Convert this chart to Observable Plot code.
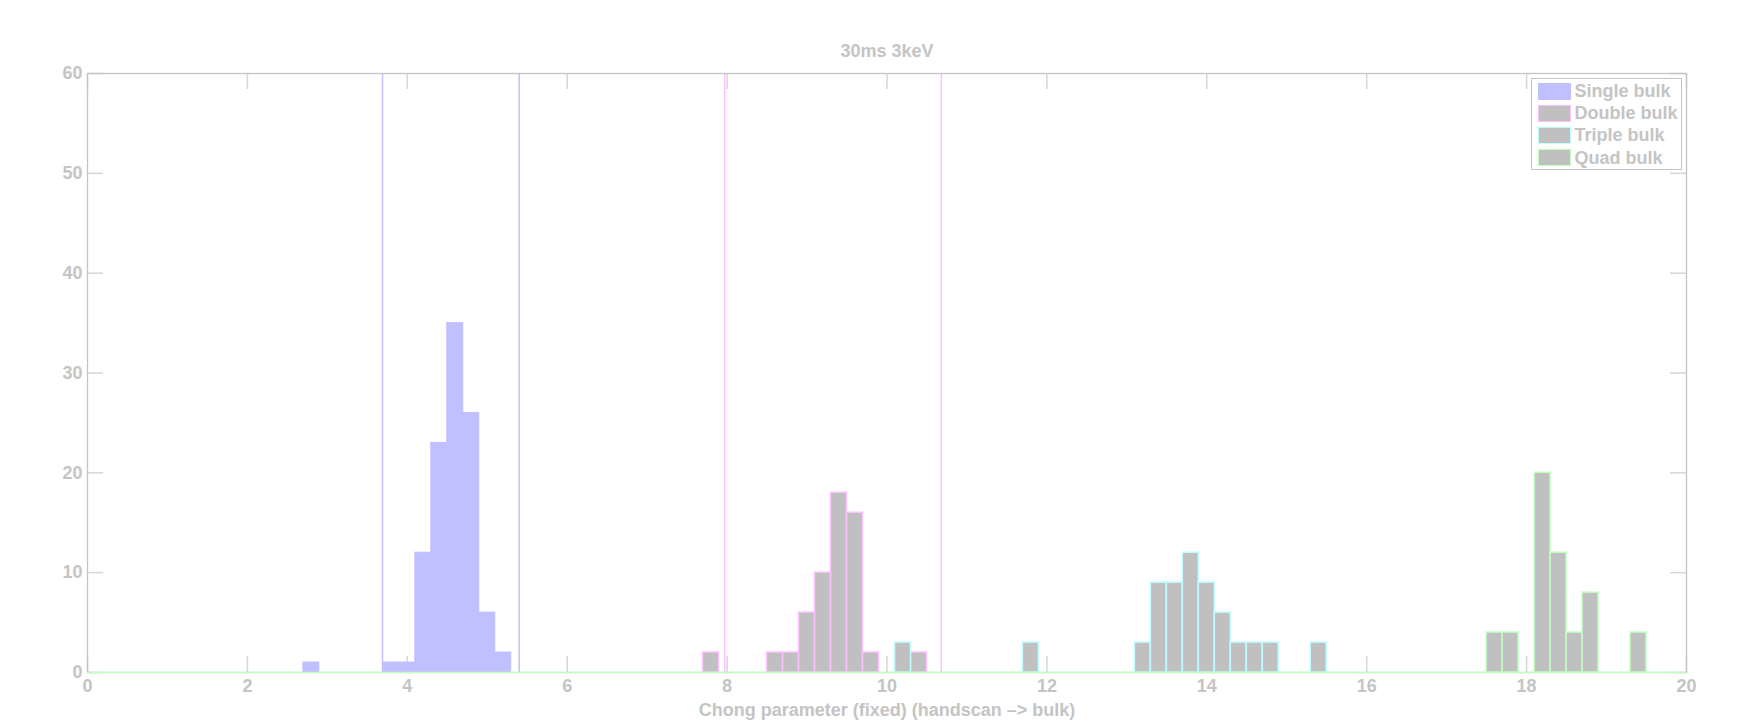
<!DOCTYPE html>
<html>
<head>
<meta charset="utf-8">
<script src="https://cdn.jsdelivr.net/npm/d3@7"></script>
<script src="https://cdn.jsdelivr.net/npm/@observablehq/plot@0.6"></script>
<style>
  body { margin: 0; background: #fff; }
  #wrap { position: relative; width: 1742px; height: 721px; font-family: "Liberation Sans", Arial, Helvetica, sans-serif; font-weight: bold; }
  #legend { position: absolute; left: 1531px; top: 78px; width: 151px; height: 92px; box-sizing: border-box;
            border: 1.5px solid #c4c4c4; background: #fff; padding: 1px 0 0 5.5px; }
  .row { display: flex; align-items: center; height: 22.2px; }
  .sw { width: 33px; height: 17px; box-sizing: border-box; margin-right: 4px; }
  .lab { font-size: 18px; color: #c4c4c4; line-height: 1; white-space: nowrap; }
</style>
</head>
<body>
<div id="wrap"><div id="chart"></div><div id="legend"></div></div>
<script>
// ---- data (histogram bin centres, width 0.2, and counts) ----
const title = "30ms 3keV";
const xLabel = "Chong parameter (fixed) (handscan \u2013> bulk)";
const binWidth = 0.2;
const xTicks = [0, 2, 4, 6, 8, 10, 12, 14, 16, 18, 20];
const yTicks = [0, 10, 20, 30, 40, 50, 60];

const singleCenters = [2.8, 3.8, 4.0, 4.2, 4.4, 4.6, 4.8, 5.0, 5.2];
const singleCounts  = [1, 1, 1, 12, 23, 35, 26, 6, 2];

const doubleCenters = [7.8, 8.6, 8.8, 9.0, 9.2, 9.4, 9.6, 9.8, 10.4];
const doubleCounts  = [2, 2, 2, 6, 10, 18, 16, 2, 2];

const tripleCenters = [10.2, 11.8, 13.2, 13.4, 13.6, 13.8, 14.0, 14.2, 14.4, 14.6, 14.8, 15.4];
const tripleCounts  = [3, 3, 3, 9, 9, 12, 9, 6, 3, 3, 3, 3];

const quadCenters = [17.6, 17.8, 18.2, 18.4, 18.6, 18.8, 19.4];
const quadCounts  = [4, 4, 20, 12, 4, 8, 4];

const singleCuts = [3.69, 5.40];
const doubleCuts = [7.97, 10.68];

const seriesNames = ["Single bulk", "Double bulk", "Triple bulk", "Quad bulk"];
const seriesFill   = ["#c0c0ff", "#c0c0c0", "#c0c0c0", "#c0c0c0"];
const seriesStroke = ["#c0c0ff", "#ffc0ff", "#c0ffff", "#c0ffc0"];

// ---- layout ----
const W = 1742, H = 721;
const mL = 87, mR = 56, mT = 73, mB = 49;
const xDomain = [0, 20], yDomain = [0, 60];
const tickPx = 16;
const tickLenY = tickPx * (yDomain[1] - yDomain[0]) / (H - mT - mB);
const tickLenX = tickPx * (xDomain[1] - xDomain[0]) / (W - mL - mR);
const textColor = "#c4c4c4";
const font = "18px";

function bins(centers, counts) {
  return centers.map((c, i) => ({x1: c - binWidth / 2, x2: c + binWidth / 2, count: counts[i]}));
}
const allBins = [
  bins(singleCenters, singleCounts),
  bins(doubleCenters, doubleCounts),
  bins(tripleCenters, tripleCounts),
  bins(quadCenters, quadCounts)
];

const barMarks = allBins.map((b, i) => Plot.rectY(b, {
  x1: "x1", x2: "x2", y1: 0, y2: "count",
  fill: seriesFill[i], stroke: seriesStroke[i], strokeWidth: i === 0 ? 1 : 1.5
}));

const chart = Plot.plot({
  width: W, height: H,
  marginLeft: mL, marginRight: mR, marginTop: mT, marginBottom: mB,
  style: {fontFamily: '"Liberation Sans", Arial, Helvetica, sans-serif', fontWeight: "bold", fontSize: font, color: textColor, background: "#fff"},
  x: {domain: xDomain, axis: null},
  y: {domain: yDomain, axis: null},
  marks: [
    // ticks on all four sides, pointing inwards
    Plot.ruleX(xTicks, {x: d => d, y1: yDomain[0], y2: yDomain[0] + tickLenY, stroke: "#d6d6d6", strokeWidth: 1.5}),
    Plot.ruleX(xTicks, {x: d => d, y1: yDomain[1], y2: yDomain[1] - tickLenY, stroke: "#d6d6d6", strokeWidth: 1.5}),
    Plot.ruleY(yTicks, {y: d => d, x1: xDomain[0], x2: xDomain[0] + tickLenX, stroke: "#d6d6d6", strokeWidth: 1.5}),
    Plot.ruleY(yTicks, {y: d => d, x1: xDomain[1], x2: xDomain[1] - tickLenX, stroke: "#d6d6d6", strokeWidth: 1.5}),
    ...barMarks,
    Plot.ruleX(singleCuts, {x: d => d, stroke: seriesStroke[0], strokeWidth: 1.5}),
    Plot.ruleX(doubleCuts, {x: d => d, stroke: seriesStroke[1], strokeWidth: 1.5}),
    Plot.frame({stroke: "#c4c4c4", strokeWidth: 1.3}),
    Plot.ruleY([0], {y: d => d, x1: xDomain[0], x2: xDomain[1], stroke: seriesStroke[3], strokeWidth: 1.5}),
    Plot.axisX(xTicks, {anchor: "bottom", tickSize: 0, tickPadding: 7, label: null, fill: textColor, fontSize: font, fontWeight: "bold"}),
    Plot.axisY(yTicks, {anchor: "left", tickSize: 0, tickPadding: 5, label: null, fill: textColor, fontSize: font, fontWeight: "bold"}),
    Plot.text([title], {text: d => d, frameAnchor: "top", lineAnchor: "top", dy: -29, fill: textColor, fontSize: font, fontWeight: "bold"}),
    Plot.text([xLabel], {text: d => d, frameAnchor: "bottom", lineAnchor: "top", dy: 31, fill: textColor, fontSize: font, fontWeight: "bold"})
  ]
});
document.getElementById("chart").appendChild(chart);

// legend
const legend = document.getElementById("legend");
seriesNames.forEach((name, i) => {
  const row = document.createElement("div");
  row.className = "row";
  const sw = document.createElement("div");
  sw.className = "sw";
  sw.style.background = seriesFill[i];
  sw.style.border = `1.5px solid ${seriesStroke[i]}`;
  const lab = document.createElement("span");
  lab.className = "lab";
  lab.textContent = name;
  row.appendChild(sw);
  row.appendChild(lab);
  legend.appendChild(row);
});
</script>
</body>
</html>
